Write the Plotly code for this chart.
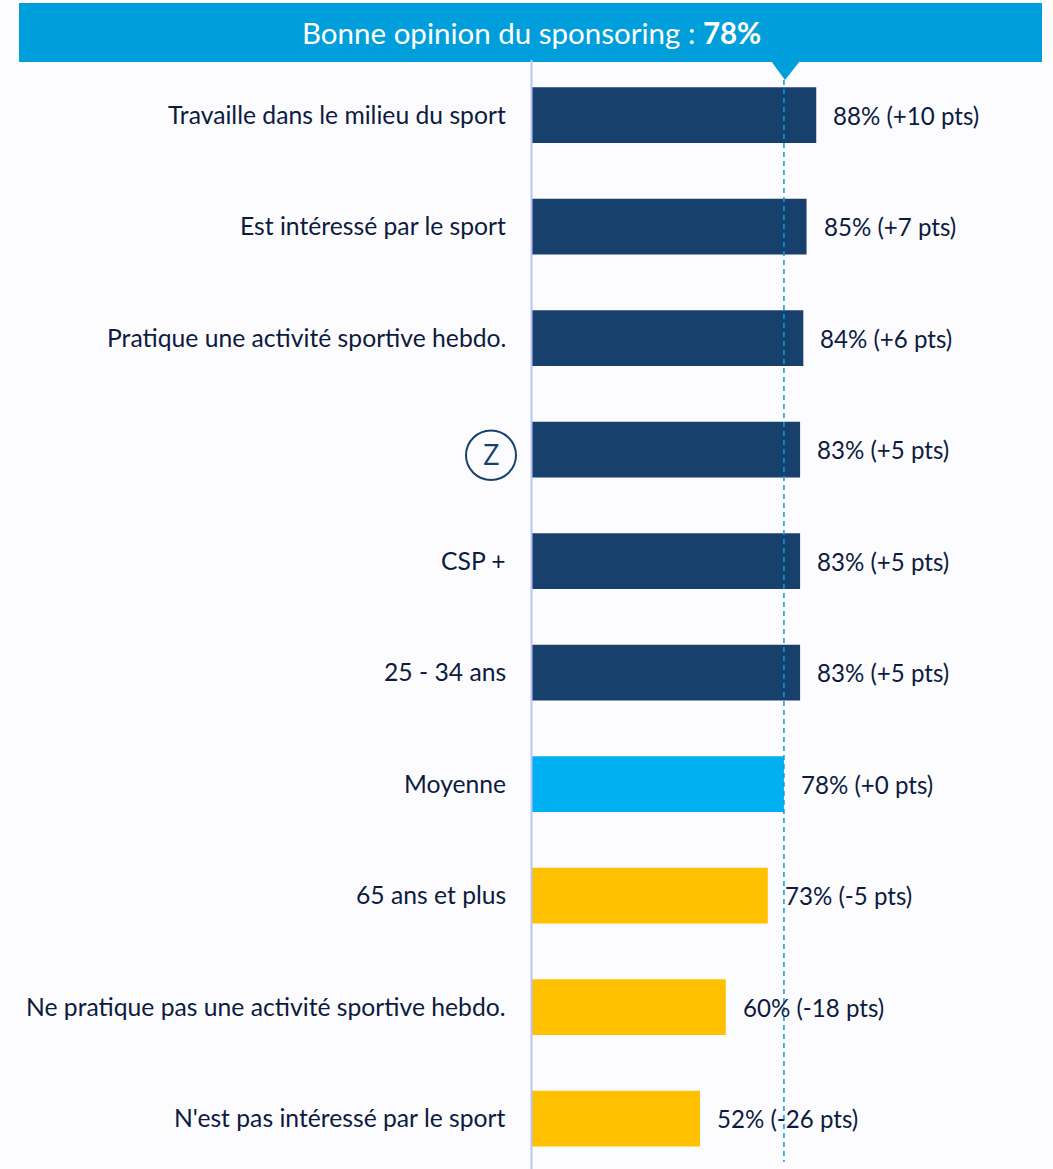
import plotly.graph_objects as go

categories = ["Travaille dans le milieu du sport", "Est intéressé par le sport",
              "Pratique une activité sportive hebdo.", "Z", "CSP +", "25 - 34 ans", "Moyenne",
              "65 ans et plus", "Ne pratique pas une activité sportive hebdo.",
              "N'est pas intéressé par le sport"]
values = [88, 85, 84, 83, 83, 83, 78, 73, 60, 52]
deltas = ["+10", "+7", "+6", "+5", "+5", "+5", "+0", "-5", "-18", "-26"]
colors = ["#18406C"] * 6 + ["#00B0F0"] + ["#FFC000"] * 3
average = 78
title_text = "Bonne opinion du sponsoring : <b>78%</b>"

W, H = 1053, 1169
FONT = "Lato"
INK = "#0D1B3E"
x0_px, ppu = 532.0, 3.23
y0_px, pitch = 115.0, 111.5

fig = go.Figure(go.Bar(
    y=list(range(len(categories))), x=values, orientation="h",
    marker=dict(color=colors, line=dict(width=0)), width=0.5,
    hoverinfo="skip",
))

annotations = []
for i, (c, v, d) in enumerate(zip(categories, values, deltas)):
    annotations.append(dict(x=v, y=i, xref="x", yref="y", text=f"{v}% ({d} pts)", showarrow=False,
                            xanchor="left", yanchor="middle", xshift=15, yshift=0,
                            font=dict(family=FONT, size=24.1, color=INK)))
    if c == "Z":
        annotations.append(dict(x=0, y=i, xref="x", yref="y", text="Z", showarrow=False,
                                xanchor="center", yanchor="middle", xshift=-41, yshift=-4,
                                font=dict(family="Open Sans", size=29, color="#18406C")))
    else:
        annotations.append(dict(x=0, y=i, xref="x", yref="y", text=c, showarrow=False,
                                xanchor="right", yanchor="middle", xshift=-24, yshift=1,
                                font=dict(family=FONT, size=24.7, color=INK)))
annotations.append(dict(x=531 / W, y=1 - 33 / H, xref="paper", yref="paper", text=title_text,
                        showarrow=False, xanchor="center", yanchor="middle",
                        font=dict(family=FONT, size=29.5, color="white")))

def px(p):
    return p / W

def py(p):
    return 1 - p / H

shapes = [
    dict(type="rect", xref="paper", yref="paper", x0=px(19), x1=px(1042), y0=py(3), y1=py(62),
         fillcolor="#009FDB", line_width=0, layer="above"),
    dict(type="path", xref="paper", yref="paper",
         path=f"M {px(771)} {py(61)} L {px(800)} {py(61)} L {px(785)} {py(80)} Z",
         fillcolor="#009FDB", line_width=0, layer="above"),
    dict(type="line", xref="paper", yref="paper", x0=px(531.5), x1=px(531.5), y0=py(60), y1=py(H),
         line=dict(color="#B8C4F8", width=2), layer="above"),
    dict(type="line", xref="x", yref="paper", x0=average, x1=average, y0=py(80), y1=py(1162),
         line=dict(color="#00A0DF", width=1.5, dash="5px,4px"), layer="above"),
    dict(type="circle", xref="paper", yref="paper", x0=px(466), x1=px(516), y0=py(430.5), y1=py(480),
         line=dict(color="#18406C", width=2), fillcolor="rgba(0,0,0,0)", layer="above"),
]

fig.update_layout(
    width=W, height=H, margin=dict(l=0, r=0, t=0, b=0, pad=0, autoexpand=False),
    paper_bgcolor="#FCFCFE", plot_bgcolor="#FCFCFE", showlegend=False,
    xaxis=dict(range=[-x0_px / ppu, (W - x0_px) / ppu], visible=False, fixedrange=True),
    yaxis=dict(range=[(H - y0_px) / pitch, -y0_px / pitch], visible=False, fixedrange=True),
    shapes=shapes, annotations=annotations,
)
fig.write_html("out.html", config=dict(displayModeBar=False),
               post_script="document.body.style.margin='0';document.body.style.overflow='hidden';")
